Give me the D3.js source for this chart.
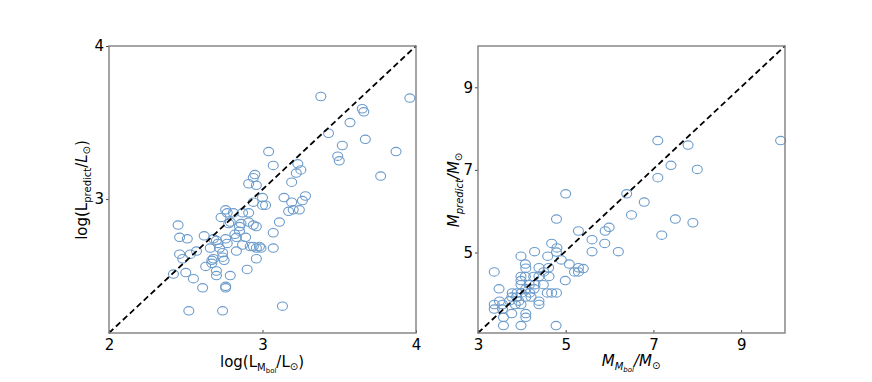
<!DOCTYPE html>
<html>
<head>
<meta charset="utf-8">
<script src="https://cdn.jsdelivr.net/npm/d3@7"></script>
<style>
  body { margin: 0; background: #fff; }
  svg text { font-family: "DejaVu Sans", sans-serif; fill: #000; }
</style>
</head>
<body>
<div id="chart"></div>
<script>
// Left panel: observed vs predicted log luminosity
var lumObs = [3.38, 3.96, 3.65, 3.66, 3.57, 3.43, 3.67, 3.04, 3.52, 3.87, 3.49, 3.50, 3.07, 3.23,
  2.95, 2.94, 3.22, 3.25, 3.77, 2.91, 2.96, 3.19, 3.14, 3.28, 3.26, 3.19, 3.00, 2.94, 3.00, 3.02,
  3.24, 3.20, 3.17, 2.76, 2.77, 2.81, 2.87, 2.91, 2.73, 2.79, 2.86, 2.91, 2.78, 2.94, 2.96, 2.85,
  3.11, 2.45, 2.85, 2.82, 3.07, 2.46, 2.51, 2.62, 2.68, 2.70, 2.76, 2.77, 2.71, 2.83, 2.89, 2.87,
  2.92, 2.94, 2.98, 2.99, 2.96, 2.66, 2.72, 3.07, 2.83, 2.57, 2.46, 2.53, 2.48, 2.74, 2.74, 2.75,
  2.68, 2.67, 2.67, 2.96, 2.63, 2.90, 2.42, 2.50, 2.70, 2.70, 2.55, 2.79, 2.61, 2.76, 2.76, 3.13,
  2.52, 2.74];
var lumPred = [3.67, 3.66, 3.59, 3.57, 3.50, 3.43, 3.39, 3.31, 3.35, 3.31, 3.28, 3.25, 3.22, 3.23,
  3.16, 3.14, 3.17, 3.19, 3.15, 3.10, 3.09, 3.11, 3.01, 3.02, 2.99, 2.98, 3.01, 2.98, 2.96, 2.96,
  2.93, 2.93, 2.92, 2.93, 2.91, 2.91, 2.91, 2.91, 2.88, 2.85, 2.84, 2.85, 2.84, 2.83, 2.82, 2.82,
  2.85, 2.83, 2.79, 2.77, 2.78, 2.75, 2.74, 2.76, 2.74, 2.73, 2.74, 2.71, 2.71, 2.75, 2.75, 2.70,
  2.69, 2.69, 2.69, 2.68, 2.68, 2.68, 2.68, 2.68, 2.66, 2.66, 2.64, 2.64, 2.61, 2.65, 2.62, 2.60,
  2.61, 2.60, 2.58, 2.61, 2.56, 2.54, 2.51, 2.52, 2.53, 2.50, 2.48, 2.50, 2.42, 2.43, 2.42, 2.30,
  2.27, 2.27];
var lumTicks = [2, 3, 4];
var lumYTicks = [3, 4];

// Right panel: observed vs predicted mass
var massObs = [7.10, 7.79, 9.90, 7.40, 8.00, 7.10, 5.00, 6.39, 6.79, 6.50, 4.79, 7.50, 7.90, 7.19,
  5.29, 5.90, 5.99, 5.60, 5.89, 4.68, 4.80, 4.29, 4.79, 5.60, 6.20, 3.98, 4.59, 4.90, 4.08, 4.09,
  5.08, 3.37, 4.39, 4.61, 5.20, 5.29, 5.40, 5.29, 3.98, 4.08, 4.27, 4.39, 4.62, 4.50, 3.98, 4.99,
  4.17, 4.30, 4.49, 3.98, 3.48, 4.09, 4.28, 3.78, 3.89, 3.99, 4.18, 4.58, 4.68, 4.79, 3.77, 3.88,
  4.09, 4.21, 3.49, 3.72, 3.93, 4.39, 3.37, 3.56, 3.85, 3.98, 4.39, 3.37, 3.56, 3.77, 4.09, 3.58,
  4.09, 3.58, 3.98, 4.78];
var massPred = [7.71, 7.60, 7.71, 7.11, 7.01, 6.81, 6.42, 6.42, 6.22, 5.91, 5.81, 5.81, 5.72, 5.42,
  5.52, 5.52, 5.61, 5.31, 5.22, 5.22, 5.11, 5.02, 5.01, 5.02, 5.02, 4.91, 4.91, 4.82, 4.72, 4.62,
  4.72, 4.53, 4.63, 4.63, 4.53, 4.63, 4.61, 4.53, 4.42, 4.42, 4.42, 4.42, 4.42, 4.53, 4.32, 4.32,
  4.22, 4.22, 4.22, 4.22, 4.12, 4.12, 4.12, 4.02, 4.02, 4.02, 4.02, 4.02, 4.02, 4.02, 3.92, 3.92,
  3.92, 3.92, 3.82, 3.83, 3.82, 3.82, 3.74, 3.74, 3.74, 3.74, 3.74, 3.63, 3.63, 3.52, 3.52, 3.43,
  3.43, 3.23, 3.23, 3.23];
var massXTicks = [3, 5, 7, 9];
var massYTicks = [5, 7, 9];

var width = 872, height = 382;
var svg = d3.select("#chart").append("svg")
  .attr("width", width).attr("height", height);

var markColor = "#6b9bcb";

function panel(opts) {
  var x = d3.scaleLinear().domain(opts.xDomain).range([opts.left, opts.right]);
  var y = d3.scaleLinear().domain(opts.yDomain).range([opts.bottom, opts.top]);
  var g = svg.append("g");

  g.selectAll("ellipse")
    .data(d3.zip(opts.xs, opts.ys))
    .join("ellipse")
    .attr("cx", function (d) { return x(d[0]); })
    .attr("cy", function (d) { return y(d[1]); })
    .attr("rx", 5).attr("ry", 4.2)
    .attr("fill", "none")
    .attr("stroke", markColor)
    .attr("stroke-width", 1.1);

  // one-to-one reference line, corner to corner
  g.append("line")
    .attr("x1", x(opts.xDomain[0])).attr("y1", y(opts.yDomain[0]))
    .attr("x2", x(opts.xDomain[1])).attr("y2", y(opts.yDomain[1]))
    .attr("stroke", "#000").attr("stroke-width", 1.8)
    .attr("stroke-dasharray", "6,3.5");

  var xAxis = d3.axisBottom(x).tickValues(opts.xTicks).tickSize(-3).tickPadding(6)
    .tickFormat(d3.format("d"));
  var yAxis = d3.axisLeft(y).tickValues(opts.yTicks).tickSize(3).tickPadding(2)
    .tickFormat(d3.format("d"));

  var gx = g.append("g").attr("transform", "translate(0," + opts.bottom + ")").call(xAxis);
  var gy = g.append("g").attr("transform", "translate(" + opts.left + ",0)").call(yAxis);
  [gx, gy].forEach(function (a) {
    a.select(".domain").remove();
    a.selectAll("line").attr("stroke", "#444");
    a.selectAll("text").style("font-size", "15px").attr("fill", "#000");
  });

  g.append("rect")
    .attr("x", opts.left).attr("y", opts.top)
    .attr("width", opts.right - opts.left).attr("height", opts.bottom - opts.top)
    .attr("fill", "none").attr("stroke", "#7f7f7f").attr("stroke-width", 1.4);

  return g;
}

// left panel
var gl = panel({
  xs: lumObs, ys: lumPred,
  xDomain: [2, 4], yDomain: [2.125, 4],
  xTicks: lumTicks, yTicks: lumYTicks,
  left: 109, right: 416, top: 46, bottom: 333
});

var xl = gl.append("text").attr("x", 262).attr("y", 367)
  .attr("text-anchor", "middle").style("font-size", "15px");
xl.append("tspan").text("log(L");
xl.append("tspan").attr("dy", 4).style("font-size", "10px").text("M");
xl.append("tspan").attr("dy", 2).style("font-size", "7px").text("bol");
xl.append("tspan").attr("dy", -6).text("/L");
xl.append("tspan").attr("dy", 3).style("font-size", "10px").text("\u2299");
xl.append("tspan").attr("dy", -3).text(")");

var yl = gl.append("text").attr("transform", "translate(87,190) rotate(-90)")
  .attr("text-anchor", "middle").style("font-size", "15px");
yl.append("tspan").text("log(L");
yl.append("tspan").attr("dy", 4).style("font-size", "10px").text("predict");
yl.append("tspan").attr("dy", -4).text("/");
yl.append("tspan").style("font-style", "italic").text("L");
yl.append("tspan").attr("dy", 3).style("font-size", "10px").text("\u2299");
yl.append("tspan").attr("dy", -3).text(")");

// right panel
var gr = panel({
  xs: massObs, ys: massPred,
  xDomain: [3, 10], yDomain: [3.05, 10],
  xTicks: massXTicks, yTicks: massYTicks,
  left: 478, right: 785, top: 46, bottom: 333
});

var xr = gr.append("text").attr("x", 631).attr("y", 366)
  .attr("text-anchor", "middle").style("font-size", "15px").style("font-style", "italic");
xr.append("tspan").text("M");
xr.append("tspan").attr("dy", 4).style("font-size", "10px").text("M");
xr.append("tspan").attr("dy", 2).style("font-size", "7px").text("bol");
xr.append("tspan").attr("dy", -6).text("/M");
xr.append("tspan").attr("dy", 3).style("font-size", "10px").style("font-style", "normal").text("\u2299");

var yr = gr.append("text").attr("transform", "translate(459,190) rotate(-90)")
  .attr("text-anchor", "middle").style("font-size", "15px").style("font-style", "italic");
yr.append("tspan").text("M");
yr.append("tspan").attr("dy", 4).style("font-size", "10px").text("predict");
yr.append("tspan").attr("dy", -4).text("/M");
yr.append("tspan").attr("dy", 3).style("font-size", "10px").style("font-style", "normal").text("\u2299");
</script>
</body>
</html>
